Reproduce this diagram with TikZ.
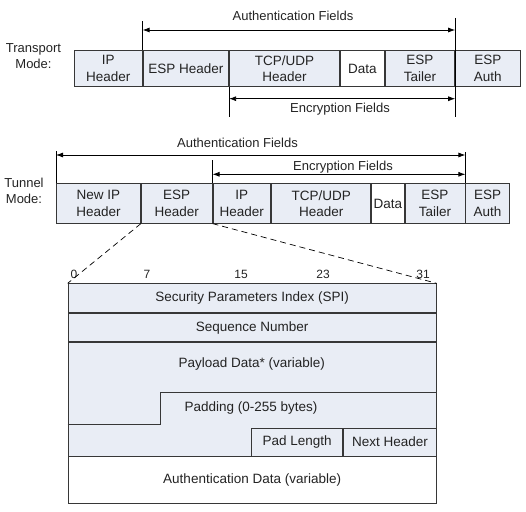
\documentclass[tikz,border=0pt]{standalone}
\usepackage{fontspec}
\setmainfont{Liberation Sans}
\usetikzlibrary{arrows.meta,positioning}
\definecolor{esp-fill}{RGB}{233,237,245}
\definecolor{esp-line}{RGB}{55,55,55}
\definecolor{esp-text}{RGB}{35,35,35}

\tikzset{
  cell/.style={draw=esp-line, fill=esp-fill, line width=0.9pt, inner sep=0pt,
    align=center, anchor=north west, text=esp-text},
  plaincell/.style={cell, fill=white},
  guideline/.style={draw=black, line width=0.8pt},
  fieldspan/.style={guideline, {Latex[length=7pt,width=5pt]}-{Latex[length=7pt,width=5pt]}},
  zoomline/.style={draw=black, line width=0.7pt, dash pattern=on 6pt off 4pt},
  lbl/.style={text=esp-text, inner sep=0pt, font=\fontsize{13}{16}\selectfont},
}

\begin{document}
\begin{tikzpicture}[x=1pt, y=-1pt, font=\fontsize{13.5}{16.5}\selectfont]
  \useasboundingbox (0,0) rectangle (526,511);

  % Transport mode
  \node[lbl, align=center] (tmode) at (33.5,56) {Transport\\Mode:};
  \node[cell, minimum width=67.7pt, minimum height=36pt] (tip) at (74,50) {IP\\Header};
  \node[cell, minimum width=85.6pt, minimum height=36pt] (tesp) at (tip.north east) {ESP Header};
  \node[cell, minimum width=110pt, minimum height=36pt] (ttcp) at (tesp.north east) {TCP/UDP\\Header};
  \node[plaincell, minimum width=43.7pt, minimum height=36pt] (tdata) at (ttcp.north east) {Data};
  \node[cell, minimum width=69.7pt, minimum height=36pt] (ttail) at (tdata.north east) {ESP\\Tailer};
  \node[cell, minimum width=64.3pt, minimum height=36pt] (tauth) at (ttail.north east) {ESP\\Auth};

  \draw[guideline] (tesp.north west) -- (tesp.north west |- 0,21);
  \draw[guideline] (tauth.north west |- 0,18) -- (tauth.north west |- 0,117);
  \draw[guideline] (ttcp.south west) -- (ttcp.south west |- 0,117);
  \coordinate (taL) at (tesp.north west |- 0,30);
  \coordinate (taR) at (tauth.north west |- 0,30);
  \coordinate (teL) at (ttcp.south west |- 0,98.7);
  \coordinate (teR) at (tauth.north west |- 0,98.7);
  \draw[fieldspan] (taL) -- (taR);
  \draw[fieldspan] (teL) -- (teR);
  \node[lbl] (tatxt) at (293,16) {Authentication Fields};
  \node[lbl] (tetxt) at (340,109) {Encryption Fields};

  % Tunnel mode
  \node[lbl, align=center] (nmode) at (24,191) {Tunnel\\Mode:};
  \node[cell, minimum width=84pt, minimum height=39.4pt] (nip) at (56,183.3) {New IP\\Header};
  \node[cell, minimum width=70.7pt, minimum height=39.4pt] (nesp) at (nip.north east) {ESP\\Header};
  \node[cell, minimum width=57.6pt, minimum height=39.4pt] (nipin) at (nesp.north east) {IP\\Header};
  \node[cell, minimum width=99.4pt, minimum height=39.4pt] (ntcp) at (nipin.north east) {TCP/UDP\\Header};
  \node[plaincell, minimum width=32.3pt, minimum height=39.4pt] (ndata) at (ntcp.north east) {Data};
  \node[cell, minimum width=60pt, minimum height=39.4pt] (ntail) at (ndata.north east) {ESP\\Tailer};
  \node[cell, minimum width=43.3pt, minimum height=39.4pt] (nauth) at (ntail.north east) {ESP\\Auth};

  \draw[guideline] (nip.north west) -- (nip.north west |- 0,150.7);
  \draw[guideline] (nauth.north west) -- (nauth.north west |- 0,151.7);
  \draw[guideline] (nipin.north west) -- (nipin.north west |- 0,160);
  \coordinate (naL) at (nip.north west |- 0,155);
  \coordinate (naR) at (nauth.north west |- 0,155);
  \coordinate (neL) at (nipin.north west |- 0,174.3);
  \coordinate (neR) at (nauth.north west |- 0,174.3);
  \draw[fieldspan] (naL) -- (naR);
  \draw[fieldspan] (neL) -- (neR);
  \node[lbl] (natxt) at (237.5,142.7) {Authentication Fields};
  \node[lbl] (netxt) at (343,166.7) {Encryption Fields};

  % ESP header layout
  \node[cell, minimum width=368pt, minimum height=29pt] (spi) at (67.7,283.3) {Security Parameters Index (SPI)};
  \node[cell, minimum width=368pt, minimum height=28pt] (seq) at (spi.south west) {Sequence Number};
  \node[cell, minimum width=368pt, minimum height=113.4pt] (pay) at (seq.south west) {};
  \node[plaincell, minimum width=368pt, minimum height=47pt] (adata) at (pay.south west) {Authentication Data (variable)};
  \node[cell, anchor=south east, minimum width=92.4pt, minimum height=28pt] (nxthdr) at (pay.south east) {Next Header};
  \node[cell, anchor=south east, minimum width=91.6pt, minimum height=28pt] (padlen) at (nxthdr.south west) {Pad Length};
  \draw[draw=esp-line, line width=0.9pt] (pay.west |- 0,424.3) -- (160,424.3) -- (160,392.3) -- (pay.east |- 0,392.3);
  \node[text=esp-text] (paytxt) at (251.7,364.3) {Payload Data* (variable)};
  \node[text=esp-text] (padtxt) at (251,408.3) {Padding (0-255 bytes)};

  \foreach \b/\x in {0/74,7/147,15/241,23/323,31/423}
    \node[lbl, font=\fontsize{12}{14}\selectfont] (bit\b) at (\x,274) {\b};

  \draw[zoomline] (nesp.south west) -- (spi.north west);
  \draw[zoomline] (nesp.south east) -- (spi.north east);
\end{tikzpicture}
\end{document}
